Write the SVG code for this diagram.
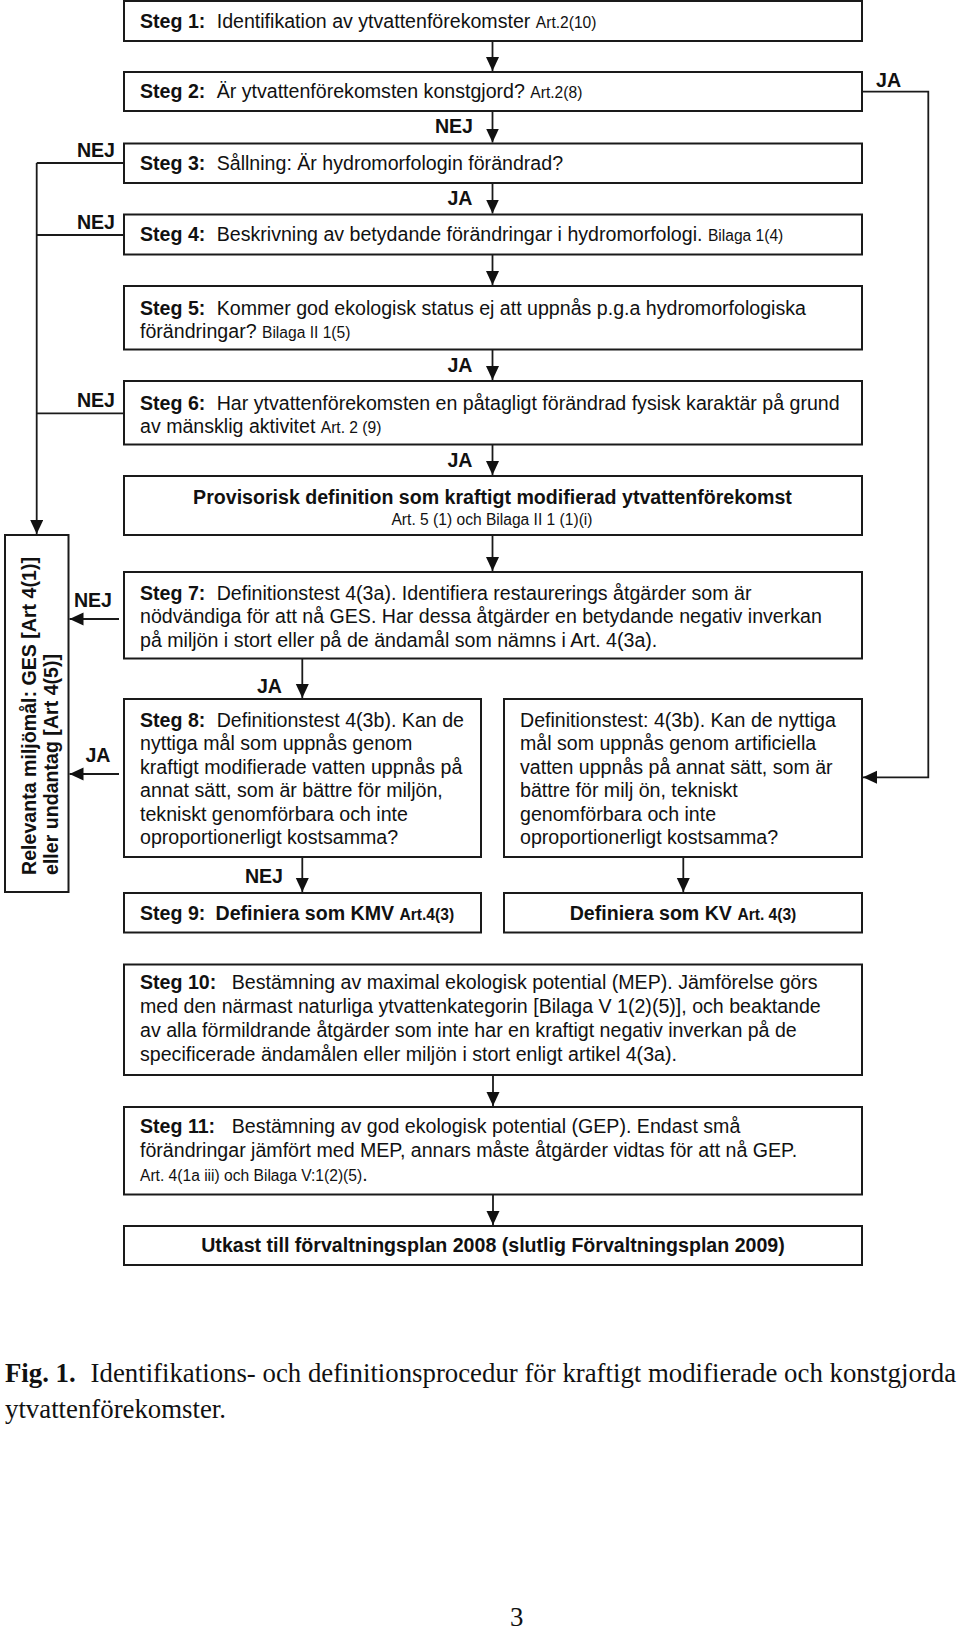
<svg xmlns="http://www.w3.org/2000/svg" width="960" height="1632" viewBox="0 0 960 1632">
<style>
.box{fill:#fff;stroke:#1a1a1a;stroke-width:2}
.ln{fill:none;stroke:#1a1a1a;stroke-width:1.8}
.t{font-family:"Liberation Sans",Arial,sans-serif;font-size:19.6px;fill:#111}
.b{font-weight:bold}
.s{font-size:15.6px}
.m{text-anchor:middle}
.e{text-anchor:end}
.cap{font-family:"Liberation Serif","Times New Roman",serif;font-size:26.8px;fill:#111}
</style>
<defs>
<marker id="ah" markerUnits="userSpaceOnUse" markerWidth="15" markerHeight="14" refX="14" refY="6.5" orient="auto">
<path d="M0,0 L14,6.5 L0,13 z" fill="#111"/>
</marker>
</defs>
<rect width="960" height="1632" fill="#fff"/>

<g id="connectors">
<path class="ln" d="M492.5,41 V71" marker-end="url(#ah)"/>
<path class="ln" d="M492.5,111 V142.5" marker-end="url(#ah)"/>
<path class="ln" d="M492.5,183 V213.5" marker-end="url(#ah)"/>
<path class="ln" d="M492.5,254.5 V285" marker-end="url(#ah)"/>
<path class="ln" d="M492.5,349.5 V380" marker-end="url(#ah)"/>
<path class="ln" d="M492.5,444.5 V475" marker-end="url(#ah)"/>
<path class="ln" d="M492.5,535 V571" marker-end="url(#ah)"/>
<path class="ln" d="M302.3,658.5 V698" marker-end="url(#ah)"/>
<path class="ln" d="M302.3,857 V892" marker-end="url(#ah)"/>
<path class="ln" d="M683.3,857 V892" marker-end="url(#ah)"/>
<path class="ln" d="M493,1075 V1106" marker-end="url(#ah)"/>
<path class="ln" d="M493,1194.5 V1225" marker-end="url(#ah)"/>
<path class="ln" d="M862,91.7 H928.3 V777.3 H863" marker-end="url(#ah)"/>
<path class="ln" d="M124,163 H36.7"/>
<path class="ln" d="M124,235 H36.7"/>
<path class="ln" d="M124,413.3 H36.7"/>
<path class="ln" d="M36.7,163 V534" marker-end="url(#ah)"/>
<path class="ln" d="M119,619 H69.5" marker-end="url(#ah)"/>
<path class="ln" d="M119,774 H69.5" marker-end="url(#ah)"/>
</g>

<g id="labels">
<text class="t b" x="876" y="87.3">JA</text>
<text class="t b e" x="473" y="133.3">NEJ</text>
<text class="t b e" x="472.5" y="205">JA</text>
<text class="t b e" x="115" y="156.7">NEJ</text>
<text class="t b e" x="115" y="229.3">NEJ</text>
<text class="t b e" x="472.5" y="371.7">JA</text>
<text class="t b e" x="115" y="407.3">NEJ</text>
<text class="t b e" x="472.5" y="466.7">JA</text>
<text class="t b e" x="112" y="607.3">NEJ</text>
<text class="t b e" x="110.5" y="761.7">JA</text>
<text class="t b e" x="282" y="693.3">JA</text>
<text class="t b e" x="283" y="883.3">NEJ</text>
</g>

<g id="steg1">
<rect class="box" x="124" y="1" width="738" height="40"/>
<text class="t" y="27.5"><tspan class="b" x="140">Steg 1:</tspan><tspan x="216.7">Identifikation av ytvattenförekomster </tspan><tspan class="s">Art.2(10)</tspan></text>
</g>
<g id="steg2">
<rect class="box" x="124" y="72" width="738" height="39"/>
<text class="t" y="98.3"><tspan class="b" x="140">Steg 2:</tspan><tspan x="216.7">Är ytvattenförekomsten konstgjord? </tspan><tspan class="s">Art.2(8)</tspan></text>
</g>
<g id="steg3">
<rect class="box" x="124" y="143.5" width="738" height="39.5"/>
<text class="t" y="169.8"><tspan class="b" x="140">Steg 3:</tspan><tspan x="216.7">Sållning: Är hydromorfologin förändrad?</tspan></text>
</g>
<g id="steg4">
<rect class="box" x="124" y="214.5" width="738" height="40"/>
<text class="t" y="241.2"><tspan class="b" x="140">Steg 4:</tspan><tspan x="216.7">Beskrivning av betydande förändringar i hydromorfologi. </tspan><tspan class="s">Bilaga 1(4)</tspan></text>
</g>
<g id="steg5">
<rect class="box" x="124" y="286" width="738" height="63.5"/>
<text class="t" y="314.5"><tspan class="b" x="140">Steg 5:</tspan><tspan x="216.7">Kommer god ekologisk status ej att uppnås p.g.a hydromorfologiska</tspan></text>
<text class="t" x="140" y="338">förändringar? <tspan class="s">Bilaga II 1(5)</tspan></text>
</g>
<g id="steg6">
<rect class="box" x="124" y="381" width="738" height="63.5"/>
<text class="t" y="409.5"><tspan class="b" x="140">Steg 6:</tspan><tspan x="216.7">Har ytvattenförekomsten en påtagligt förändrad fysisk karaktär på grund</tspan></text>
<text class="t" x="140" y="433">av mänsklig aktivitet <tspan class="s">Art. 2 (9)</tspan></text>
</g>
<g id="provisorisk">
<rect class="box" x="124" y="476" width="738" height="59"/>
<text class="t b m" x="492.5" y="503.5">Provisorisk definition som kraftigt modifierad ytvattenförekomst</text>
<text class="t s m" x="492" y="524.5">Art. 5 (1) och Bilaga II 1 (1)(i)</text>
</g>
<g id="relevanta">
<rect class="box" x="5" y="535" width="63.5" height="357"/>
<text class="t b" transform="translate(36,875) rotate(-90)">Relevanta miljömål: GES [Art 4(1)]</text>
<text class="t b" transform="translate(57.5,875) rotate(-90)">eller undantag [Art 4(5)]</text>
</g>
<g id="steg7">
<rect class="box" x="124" y="572" width="738" height="86.5"/>
<text class="t" y="599.5"><tspan class="b" x="140">Steg 7:</tspan><tspan x="216.7">Definitionstest 4(3a). Identifiera restaurerings åtgärder som är</tspan></text>
<text class="t" x="140" y="623">nödvändiga för att nå GES. Har dessa åtgärder en betydande negativ inverkan</text>
<text class="t" x="140" y="646.5">på miljön i stort eller på de ändamål som nämns i Art. 4(3a).</text>
</g>
<g id="steg8">
<rect class="box" x="124" y="699" width="357" height="158"/>
<text class="t" y="726.5"><tspan class="b" x="140">Steg 8:</tspan><tspan x="216.7">Definitionstest 4(3b). Kan de</tspan></text>
<text class="t" x="140" y="750">nyttiga mål som uppnås genom</text>
<text class="t" x="140" y="773.5">kraftigt modifierade vatten uppnås på</text>
<text class="t" x="140" y="797">annat sätt, som är bättre för miljön,</text>
<text class="t" x="140" y="820.5">tekniskt genomförbara och inte</text>
<text class="t" x="140" y="844">oproportionerligt kostsamma?</text>
</g>
<g id="definitionstest">
<rect class="box" x="504" y="699" width="358" height="158"/>
<text class="t" x="520" y="726.5">Definitionstest: 4(3b). Kan de nyttiga</text>
<text class="t" x="520" y="750">mål som uppnås genom artificiella</text>
<text class="t" x="520" y="773.5">vatten uppnås på annat sätt, som är</text>
<text class="t" x="520" y="797">bättre för milj ön, tekniskt</text>
<text class="t" x="520" y="820.5">genomförbara och inte</text>
<text class="t" x="520" y="844">oproportionerligt kostsamma?</text>
</g>
<g id="steg9">
<rect class="box" x="124" y="893" width="357" height="39.5"/>
<text class="t b" y="919.5"><tspan x="140">Steg 9:</tspan><tspan x="215.5">Definiera som KMV </tspan><tspan class="s">Art.4(3)</tspan></text>
</g>
<g id="kv">
<rect class="box" x="504" y="893" width="358" height="39.5"/>
<text class="t b m" x="683" y="919.5">Definiera som KV <tspan class="s">Art. 4(3)</tspan></text>
</g>
<g id="steg10">
<rect class="box" x="124" y="964.5" width="738" height="110.5"/>
<text class="t" y="989"><tspan class="b" x="140">Steg 10:</tspan><tspan x="231.7">Bestämning av maximal ekologisk potential (MEP). Jämförelse görs</tspan></text>
<text class="t" x="140" y="1013">med den närmast naturliga ytvattenkategorin [Bilaga V 1(2)(5)], och beaktande</text>
<text class="t" x="140" y="1037">av alla förmildrande åtgärder som inte har en kraftigt negativ inverkan på de</text>
<text class="t" x="140" y="1061">specificerade ändamålen eller miljön i stort enligt artikel 4(3a).</text>
</g>
<g id="steg11">
<rect class="box" x="124" y="1107" width="738" height="87.5"/>
<text class="t" y="1132.5"><tspan class="b" x="140">Steg 11:</tspan><tspan x="231.7">Bestämning av god ekologisk potential (GEP). Endast små</tspan></text>
<text class="t" x="140" y="1156.5">förändringar jämfört med MEP, annars måste åtgärder vidtas för att nå GEP.</text>
<text class="t" x="140" y="1181"><tspan class="s">Art. 4(1a iii) och Bilaga V:1(2)(5)</tspan>.</text>
</g>
<g id="utkast">
<rect class="box" x="124" y="1226" width="738" height="39"/>
<text class="t b m" x="493" y="1252">Utkast till förvaltningsplan 2008 (slutlig Förvaltningsplan 2009)</text>
</g>

<g id="caption">
<text class="cap" y="1382"><tspan x="5" font-weight="bold">Fig. 1.</tspan><tspan x="90.6">Identifikations- och definitionsprocedur för kraftigt modifierade och konstgjorda</tspan></text>
<text class="cap" x="5" y="1418">ytvattenförekomster.</text>
<text class="cap" x="510" y="1626" font-size="24">3</text>
</g>
</svg>
